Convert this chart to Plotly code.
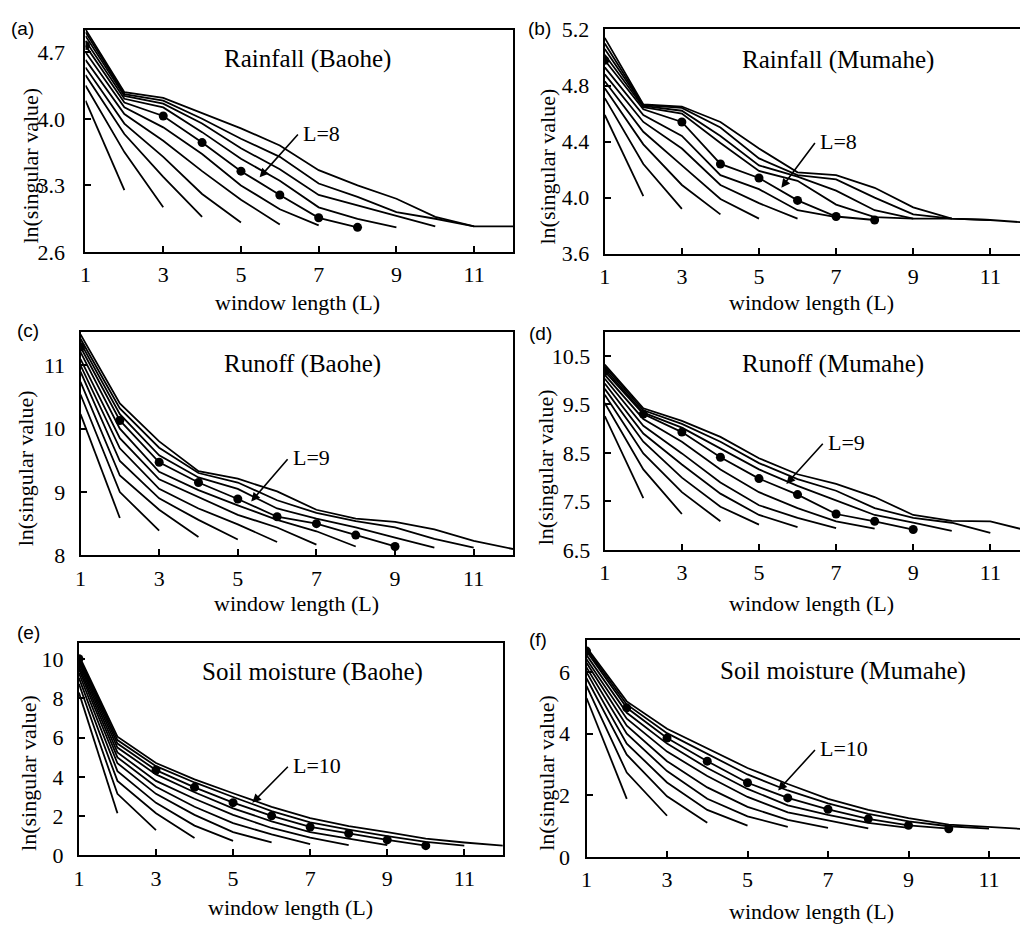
import plotly.graph_objects as go

# x positions are 1..L for each window length L (2..12)
window_lengths = list(range(2, 13))

rain_baohe = [
    [4.19, 3.25],
    [4.35, 3.65, 3.07],
    [4.46, 3.84, 3.39, 2.97],
    [4.54, 3.95, 3.60, 3.21, 2.91],
    [4.62, 4.05, 3.77, 3.45, 3.15, 2.89],
    [4.70, 4.12, 3.91, 3.63, 3.30, 3.05, 2.88],
    [4.77, 4.17, 4.03, 3.75, 3.45, 3.20, 2.96, 2.86],
    [4.82, 4.21, 4.12, 3.86, 3.58, 3.35, 3.07, 2.95, 2.86],
    [4.87, 4.24, 4.16, 3.95, 3.69, 3.47, 3.20, 3.09, 2.98, 2.87],
    [4.91, 4.26, 4.19, 4.00, 3.79, 3.60, 3.32, 3.18, 3.02, 2.95, 2.87],
    [4.94, 4.28, 4.22, 4.06, 3.90, 3.72, 3.46, 3.30, 3.16, 2.97, 2.87, 2.87],
]

rain_mumahe = [
    [4.59, 4.01],
    [4.71, 4.24, 3.92],
    [4.78, 4.38, 4.09, 3.88],
    [4.83, 4.47, 4.23, 3.99, 3.85],
    [4.88, 4.54, 4.35, 4.09, 3.96, 3.85],
    [4.93, 4.59, 4.44, 4.16, 4.06, 3.91, 3.86],
    [4.98, 4.63, 4.54, 4.24, 4.14, 3.98, 3.865, 3.84],
    [5.02, 4.645, 4.60, 4.39, 4.19, 4.12, 3.95, 3.86, 3.85],
    [5.06, 4.655, 4.62, 4.44, 4.23, 4.15, 4.05, 3.91, 3.85, 3.85],
    [5.10, 4.66, 4.64, 4.50, 4.28, 4.16, 4.13, 4.00, 3.88, 3.85, 3.84],
    [5.14, 4.665, 4.65, 4.54, 4.35, 4.18, 4.16, 4.07, 3.93, 3.85, 3.84, 3.82],
]

runoff_baohe = [
    [10.23, 8.59],
    [10.54, 9.00, 8.39],
    [10.74, 9.26, 8.72, 8.29],
    [10.90, 9.49, 8.90, 8.56, 8.25],
    [11.00, 9.69, 9.05, 8.74, 8.49, 8.21],
    [11.10, 9.85, 9.20, 8.92, 8.64, 8.44, 8.17],
    [11.21, 10.00, 9.32, 9.03, 8.79, 8.56, 8.38, 8.14],
    [11.29, 10.13, 9.47, 9.15, 8.89, 8.61, 8.50, 8.32, 8.14],
    [11.36, 10.23, 9.58, 9.23, 9.05, 8.74, 8.58, 8.44, 8.28, 8.12],
    [11.42, 10.32, 9.70, 9.30, 9.15, 8.87, 8.67, 8.54, 8.44, 8.26, 8.12],
    [11.49, 10.40, 9.80, 9.33, 9.21, 9.01, 8.72, 8.58, 8.53, 8.41, 8.23, 8.10],
]

runoff_mumahe = [
    [9.26, 7.57],
    [9.53, 8.16, 7.24],
    [9.70, 8.49, 7.69, 7.09],
    [9.82, 8.73, 7.99, 7.39, 7.02],
    [9.93, 8.90, 8.26, 7.66, 7.22, 6.97],
    [10.03, 9.06, 8.49, 7.89, 7.42, 7.16, 6.95],
    [10.11, 9.20, 8.73, 8.16, 7.69, 7.36, 7.09, 6.94],
    [10.18, 9.30, 8.93, 8.41, 7.97, 7.64, 7.24, 7.09, 6.92],
    [10.23, 9.33, 9.02, 8.59, 8.16, 7.82, 7.52, 7.22, 7.06, 6.89],
    [10.28, 9.38, 9.10, 8.73, 8.29, 7.96, 7.72, 7.36, 7.16, 7.06, 6.85],
    [10.32, 9.42, 9.16, 8.83, 8.39, 8.06, 7.86, 7.59, 7.22, 7.10, 7.09, 6.89],
]

soil_baohe = [
    [8.30, 2.15],
    [8.75, 3.14, 1.29],
    [9.05, 3.80, 2.15, 0.89],
    [9.30, 4.30, 2.68, 1.52, 0.74],
    [9.50, 4.70, 3.14, 2.07, 1.19, 0.66],
    [9.65, 5.00, 3.50, 2.48, 1.65, 1.07, 0.58],
    [9.80, 5.25, 3.80, 2.89, 2.07, 1.40, 0.91, 0.53],
    [9.92, 5.50, 4.13, 3.22, 2.40, 1.74, 1.19, 0.86, 0.53],
    [10.03, 5.70, 4.35, 3.47, 2.69, 2.02, 1.45, 1.12, 0.79, 0.50],
    [10.12, 5.88, 4.55, 3.72, 2.98, 2.26, 1.69, 1.32, 0.99, 0.69, 0.50],
    [10.20, 6.05, 4.71, 3.88, 3.17, 2.48, 1.90, 1.49, 1.19, 0.86, 0.66, 0.50],
]

soil_mumahe = [
    [5.16, 1.89],
    [5.55, 2.74, 1.34],
    [5.80, 3.32, 1.97, 1.11],
    [6.00, 3.68, 2.42, 1.53, 1.02],
    [6.15, 4.00, 2.79, 1.89, 1.32, 0.98],
    [6.30, 4.26, 3.11, 2.26, 1.63, 1.21, 0.95],
    [6.42, 4.49, 3.42, 2.63, 1.95, 1.45, 1.19, 0.93],
    [6.55, 4.68, 3.68, 2.89, 2.21, 1.68, 1.37, 1.11, 0.95],
    [6.68, 4.84, 3.86, 3.11, 2.41, 1.92, 1.55, 1.24, 1.03, 0.92],
    [6.74, 4.95, 4.02, 3.34, 2.68, 2.16, 1.74, 1.40, 1.16, 1.00, 0.92],
    [6.80, 5.05, 4.16, 3.53, 2.89, 2.37, 1.89, 1.53, 1.26, 1.05, 0.98, 0.90],
]

panel_letters = ["(a)", "(b)", "(c)", "(d)", "(e)", "(f)"]
panel_titles = ["Rainfall (Baohe)", "Rainfall (Mumahe)", "Runoff (Baohe)",
                "Runoff (Mumahe)", "Soil moisture (Baohe)", "Soil moisture (Mumahe)"]
highlight_L = [8, 8, 9, 9, 10, 10]
# window positions at which the highlighted series shows a dot
dot_positions = [[1, 3, 4, 5, 6, 7, 8], [1, 3, 4, 5, 6, 7, 8], [1, 2, 3, 4, 5, 6, 7, 8, 9],
                 [1, 2, 3, 4, 5, 6, 7, 8, 9], [1, 3, 4, 5, 6, 7, 8, 9, 10], [1, 2, 3, 4, 5, 6, 7, 8, 9, 10]]
y_ticks = [[2.6, 3.3, 4.0, 4.7], [3.6, 4.0, 4.4, 4.8, 5.2], [8, 9, 10, 11],
           [6.5, 7.5, 8.5, 9.5, 10.5], [0, 2, 4, 6, 8, 10], [0, 2, 4, 6]]
y_tick_text = [["2.6", "3.3", "4.0", "4.7"], ["3.6", "4.0", "4.4", "4.8", "5.2"],
               ["8", "9", "10", "11"], ["6.5", "7.5", "8.5", "9.5", "10.5"],
               ["0", "2", "4", "6", "8", "10"], ["0", "2", "4", "6"]]
x_ticks = [1, 3, 5, 7, 9, 11]
# arrow tip (x, y) and tail (x, y) in data units
arrow_tips = [(5.48, 3.385), (5.58, 4.07), (5.34, 8.85), (5.71, 7.86), (5.50, 2.68), (5.76, 2.16)]
arrow_tails = [(6.5, 3.85), (6.48, 4.40), (6.30, 9.54), (6.69, 8.72), (6.46, 4.60), (6.71, 3.52)]

panels = [rain_baohe, rain_mumahe, runoff_baohe, runoff_mumahe, soil_baohe, soil_mumahe]

# ---------------- layout geometry ----------------
W, H = 1020, 933
x_domains = [(0.0784, 0.5), (0.5905, 1.0), (0.0735, 0.5), (0.5905, 1.0), (0.0719, 0.490), (0.5725, 1.0)]
y_domains = [(0.7356, 0.9804), (0.7339, 0.9815), (0.4016, 0.6471), (0.4076, 0.6474),
             (0.0711, 0.3051), (0.0693, 0.3087)]
x_ranges = [(1, 12), (1, 11.77), (1, 12), (1, 11.77), (1, 12), (1, 11.77)]
y_ranges = [(2.6, 4.935), (3.6, 5.205), (8, 11.52), (6.5, 10.99), (0, 10.83), (0, 7.05)]
ylab_standoff = [14, 9, 9, 8, 9, 10]

letter_pos = [(17, 17), (537, 17), (22, 327), (538, 330), (23, 638), (535, 645)]
title_pos = [(303, 48), (837, 49), (298, 362), (832, 362), (308, 678), (842, 677)]
xtitle_pos = [(293, 298), (810, 299), (292, 608), (810, 608), (286, 920), (810, 924)]
ytitle_pos = [(25, 158), (545, 159), (20, 469), (543, 468), (22, 782), (543, 782)]

SERIF = "Liberation Serif"
SANS = "Liberation Sans"

fig = go.Figure()
annotations = []
layout_axes = {}

for i, data in enumerate(panels):
    sfx = "" if i == 0 else str(i + 1)
    xref = "x" + sfx
    yref = "y" + sfx
    for L, vals in zip(window_lengths, data):
        xs = list(range(1, len(vals) + 1))
        fig.add_trace(go.Scatter(
            x=xs, y=vals, xaxis=xref, yaxis=yref, mode="lines",
            line=dict(color="black", width=1.8), showlegend=False, hoverinfo="skip"))
    hl = data[window_lengths.index(highlight_L[i])]
    fig.add_trace(go.Scatter(
        x=dot_positions[i], y=[hl[p - 1] for p in dot_positions[i]], xaxis=xref, yaxis=yref,
        mode="markers", marker=dict(color="black", size=9), showlegend=False, hoverinfo="skip"))

    right_panel = i % 2 == 1
    layout_axes["xaxis" + sfx] = dict(
        domain=list(x_domains[i]), range=list(x_ranges[i]), anchor=yref,
        tickmode="array", tickvals=x_ticks, ticktext=[str(t) for t in x_ticks],
        ticks="inside", ticklen=6, tickwidth=1.5, tickcolor="black",
        showline=True, linecolor="black", linewidth=2, mirror=True,
        showgrid=False, zeroline=False, ticklabelstandoff=2,
        tickfont=dict(family=SERIF, size=22, color="black"))
    layout_axes["yaxis" + sfx] = dict(
        domain=list(y_domains[i]), range=list(y_ranges[i]), anchor=xref,
        tickmode="array", tickvals=y_ticks[i], ticktext=y_tick_text[i],
        ticks="inside", ticklen=6, tickwidth=1.5, tickcolor="black",
        showline=True, linecolor="black", linewidth=2, mirror=(not right_panel),
        showgrid=False, zeroline=False, ticklabelstandoff=ylab_standoff[i],
        tickfont=dict(family=SERIF, size=22, color="black"))

    # panel letter
    lx, ly = letter_pos[i]
    annotations.append(dict(text=panel_letters[i], x=lx / W, y=1 - ly / H, xref="paper", yref="paper",
                            showarrow=False, font=dict(family=SANS, size=19, color="black"),
                            xanchor="center", yanchor="middle"))
    tx, ty = title_pos[i]
    annotations.append(dict(text=panel_titles[i], x=tx / W, y=1 - ty / H, xref="paper", yref="paper",
                            showarrow=False, font=dict(family=SERIF, size=25, color="black"),
                            xanchor="center", yanchor="middle"))
    ax_, ay_ = xtitle_pos[i]
    annotations.append(dict(text="window length (L)", x=ax_ / W, y=1 - ay_ / H, xref="paper", yref="paper",
                            showarrow=False, font=dict(family=SERIF, size=22, color="black"),
                            xanchor="center", yanchor="middle"))
    yx, yy = ytitle_pos[i]
    annotations.append(dict(text="ln(singular value)", x=yx / W, y=1 - yy / H, xref="paper", yref="paper",
                            showarrow=False, textangle=-90, font=dict(family=SERIF, size=22, color="black"),
                            xanchor="center", yanchor="middle"))
    # arrow with label
    (tipx, tipy), (tlx, tly) = arrow_tips[i], arrow_tails[i]
    annotations.append(dict(text="", x=tipx, y=tipy, xref=xref, yref=yref,
                            ax=tlx, ay=tly, axref=xref, ayref=yref,
                            showarrow=True, arrowhead=2, arrowsize=1.1, arrowwidth=1.6,
                            arrowcolor="black"))
    annotations.append(dict(text="L=%d" % highlight_L[i], x=tlx, y=tly, xref=xref, yref=yref,
                            showarrow=False, xanchor="left", yanchor="middle", xshift=2,
                            font=dict(family=SERIF, size=22, color="black")))

fig.update_layout(
    width=W, height=H, margin=dict(l=0, r=0, t=0, b=0),
    paper_bgcolor="white", plot_bgcolor="white",
    annotations=annotations, **layout_axes)

fig.write_html("out.html")
